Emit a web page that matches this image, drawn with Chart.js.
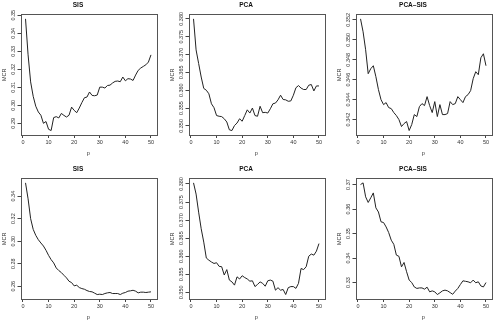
<!DOCTYPE html>
<html>
<head>
<meta charset="utf-8">
<script src="https://cdn.jsdelivr.net/npm/chart.js@4/dist/chart.umd.min.js"></script>
<style>
  html, body { margin: 0; padding: 0; background: #fff; overflow: hidden; }
  #wrap { position: relative; width: 495px; height: 322px; }
  .panel { position: absolute; width: 160px; height: 160px; }
</style>
</head>
<body>
<div id="wrap"></div>
<script>
'use strict';

// number of variables p (x axis)
var pVals = [1, 2, 3, 4, 5, 6, 7, 8, 9, 10, 11, 12, 13, 14, 15, 16, 17, 18, 19, 20,
  21, 22, 23, 24, 25, 26, 27, 28, 29, 30, 31, 32, 33, 34, 35, 36, 37, 38, 39, 40,
  41, 42, 43, 44, 45, 46, 47, 48, 49, 50];
var xTicks = [0, 10, 20, 30, 40, 50];

var titles = ['SIS', 'PCA', 'PCA\u2013SIS', 'SIS', 'PCA', 'PCA\u2013SIS'];

// MCR values, one array per panel
var sisTop = [0.348, 0.328, 0.313, 0.305, 0.2995, 0.2963, 0.2945, 0.290, 0.291, 0.2867,
  0.286, 0.2932, 0.2937, 0.293, 0.2955, 0.2944, 0.2935, 0.2945, 0.299, 0.2972,
  0.2959, 0.2985, 0.3015, 0.3042, 0.3046, 0.3074, 0.3055, 0.3053, 0.3057, 0.3101,
  0.3101, 0.3096, 0.311, 0.3112, 0.3124, 0.3133, 0.3135, 0.3131, 0.3157, 0.3136,
  0.3148, 0.3146, 0.3138, 0.3168, 0.3194, 0.3207, 0.3216, 0.3225, 0.324, 0.328];
var pcaTop = [0.380, 0.3713, 0.3675, 0.3637, 0.3605, 0.360, 0.359, 0.3562, 0.3551, 0.3529,
  0.3527, 0.3526, 0.352, 0.3511, 0.3489, 0.3487, 0.3501, 0.3508, 0.352, 0.3513,
  0.3529, 0.3545, 0.3536, 0.355, 0.3529, 0.3527, 0.3555, 0.3537, 0.3538, 0.3536,
  0.3548, 0.3562, 0.3564, 0.3573, 0.3586, 0.3574, 0.3573, 0.3569, 0.357, 0.3586,
  0.3607, 0.3613, 0.3606, 0.3602, 0.3602, 0.3614, 0.3616, 0.3598, 0.3612, 0.3612];
var pcaSisTop = [0.3521, 0.3508, 0.349, 0.3466, 0.3471, 0.3474, 0.3463, 0.345, 0.344, 0.3435,
  0.3437, 0.3432, 0.3431, 0.3427, 0.3424, 0.342, 0.3413, 0.3416, 0.3418, 0.3409,
  0.3415, 0.3425, 0.3423, 0.3433, 0.3436, 0.3434, 0.3443, 0.3434, 0.3427, 0.3438,
  0.3423, 0.3435, 0.3425, 0.3425, 0.3426, 0.3438, 0.3435, 0.3436, 0.3443, 0.344,
  0.3437, 0.3443, 0.3445, 0.3449, 0.3461, 0.3468, 0.3465, 0.3482, 0.3486, 0.3474];
var sisBottom = [0.3518, 0.3376, 0.32, 0.3105, 0.3052, 0.3013, 0.2984, 0.2957, 0.2919, 0.2874,
  0.2836, 0.2807, 0.2762, 0.2739, 0.2721, 0.2697, 0.2674, 0.2644, 0.2632, 0.2603,
  0.2609, 0.2588, 0.2579, 0.2573, 0.2561, 0.2553, 0.255, 0.2538, 0.2526, 0.2529,
  0.2526, 0.2535, 0.2541, 0.2544, 0.2535, 0.2535, 0.2535, 0.2526, 0.2538, 0.2544,
  0.2556, 0.2559, 0.2564, 0.2556, 0.2541, 0.2547, 0.2547, 0.2544, 0.2547, 0.255];
var pcaBottom = [0.3803, 0.3772, 0.3722, 0.3676, 0.3639, 0.3595, 0.3589, 0.3584, 0.358, 0.3582,
  0.3572, 0.3571, 0.3548, 0.3563, 0.3534, 0.3529, 0.352, 0.3543, 0.3537, 0.3546,
  0.3541, 0.3537, 0.3531, 0.3532, 0.3516, 0.3522, 0.3529, 0.3525, 0.3517, 0.3532,
  0.3534, 0.3531, 0.3506, 0.3513, 0.3506, 0.3508, 0.3494, 0.3513, 0.3516, 0.3516,
  0.3511, 0.3525, 0.3566, 0.3563, 0.3571, 0.360, 0.3606, 0.3603, 0.3614, 0.3635];
var pcaSisBottom = [0.370, 0.3707, 0.365, 0.3627, 0.3646, 0.3666, 0.3605, 0.3588, 0.3548, 0.3545,
  0.3527, 0.3504, 0.3473, 0.3456, 0.3412, 0.3407, 0.3364, 0.3382, 0.3344, 0.331,
  0.330, 0.3282, 0.3276, 0.3278, 0.3278, 0.3273, 0.3281, 0.3262, 0.3266, 0.3262,
  0.3251, 0.3258, 0.3266, 0.3269, 0.3266, 0.3259, 0.3252, 0.3265, 0.3276, 0.3292,
  0.3307, 0.3305, 0.3303, 0.3299, 0.331, 0.3299, 0.3303, 0.3286, 0.3282, 0.330];

// y tick values and their printed labels
var yTicksSisTop = [0.29, 0.30, 0.31, 0.32, 0.33, 0.34, 0.35];
var yLabelsSisTop = ['0.29', '0.30', '0.31', '0.32', '0.33', '0.34', '0.35'];
var yTicksPca = [0.350, 0.355, 0.360, 0.365, 0.370, 0.375, 0.380];
var yLabelsPca = ['0.350', '0.355', '0.360', '0.365', '0.370', '0.375', '0.380'];
var yTicksPcaSisTop = [0.342, 0.344, 0.346, 0.348, 0.350, 0.352];
var yLabelsPcaSisTop = ['0.342', '0.344', '0.346', '0.348', '0.350', '0.352'];
var yTicksSisBottom = [0.26, 0.28, 0.30, 0.32, 0.34];
var yLabelsSisBottom = ['0.26', '0.28', '0.30', '0.32', '0.34'];
var yTicksPcaSisBottom = [0.33, 0.34, 0.35, 0.36, 0.37];
var yLabelsPcaSisBottom = ['0.33', '0.34', '0.35', '0.36', '0.37'];

var panels = [
  { title: titles[0], data: sisTop, ticks: yTicksSisTop, labels: yLabelsSisTop, left: 0, top: 0 },
  { title: titles[1], data: pcaTop, ticks: yTicksPca, labels: yLabelsPca, left: 168, top: 0 },
  { title: titles[2], data: pcaSisTop, ticks: yTicksPcaSisTop, labels: yLabelsPcaSisTop, left: 335, top: 0 },
  { title: titles[3], data: sisBottom, ticks: yTicksSisBottom, labels: yLabelsSisBottom, left: 0, top: 164 },
  { title: titles[4], data: pcaBottom, ticks: yTicksPca, labels: yLabelsPca, left: 168, top: 164 },
  { title: titles[5], data: pcaSisBottom, ticks: yTicksPcaSisBottom, labels: yLabelsPcaSisBottom, left: 335, top: 164 }
];

var FONT = 'Liberation Sans, Arial, Helvetica, sans-serif';
var TICK_SIZE = 5.5;
var AREA_LEFT = 20.5;
var TICK_LEN = 3;
var LABEL_X = 13.3;
var ink = '#333';

var measureCtx = document.createElement('canvas').getContext('2d');
measureCtx.font = TICK_SIZE + 'px ' + FONT;

// R style: axis range stretched 4% beyond the data
function rRange(lo, hi) {
  var pad = (hi - lo) * 0.04;
  return [lo - pad, hi + pad];
}

// box around the plot region
var boxPlugin = {
  id: 'box',
  afterDraw: function (chart) {
    var a = chart.chartArea;
    var c = chart.ctx;
    c.save();
    c.strokeStyle = '#555';
    c.lineWidth = 1;
    c.strokeRect(Math.round(a.left) + 0.5, Math.round(a.top) + 0.5,
      Math.round(a.right - a.left), Math.round(a.bottom - a.top));
    c.restore();
  }
};

function makePanel(panel) {
  var div = document.createElement('div');
  div.className = 'panel';
  div.style.left = panel.left + 'px';
  div.style.top = panel.top + 'px';
  var canvas = document.createElement('canvas');
  canvas.width = 160;
  canvas.height = 160;
  div.appendChild(canvas);
  document.getElementById('wrap').appendChild(div);

  var xr = rRange(pVals[0], pVals[pVals.length - 1]);
  var yr = rRange(Math.min.apply(null, panel.data), Math.max.apply(null, panel.data));

  var widest = 0;
  for (var i = 0; i < panel.labels.length; i++) {
    widest = Math.max(widest, measureCtx.measureText(panel.labels[i]).width);
  }
  var yPad = AREA_LEFT - TICK_LEN - LABEL_X - widest / 2;

  var points = pVals.map(function (p, i) { return { x: p, y: panel.data[i] }; });

  new Chart(canvas.getContext('2d'), {
    type: 'line',
    data: {
      datasets: [{
        data: points,
        borderColor: '#222',
        borderWidth: 1,
        pointRadius: 0,
        tension: 0,
        fill: false
      }]
    },
    options: {
      responsive: false,
      animation: false,
      devicePixelRatio: 1,
      layout: { padding: { left: 0, right: 4, top: 0, bottom: 0 } },
      plugins: {
        legend: { display: false },
        tooltip: { enabled: false },
        title: {
          display: true,
          text: panel.title,
          color: '#111',
          font: { family: FONT, size: 6.5, weight: 'bold', lineHeight: 1.2 },
          padding: { top: 1.8, bottom: 4.8 }
        }
      },
      scales: {
        x: {
          type: 'linear',
          min: xr[0],
          max: xr[1],
          afterBuildTicks: function (s) {
            s.ticks = xTicks.map(function (v) { return { value: v }; });
          },
          afterFit: function (s) { s.height = 25; },
          grid: { drawOnChartArea: false, drawTicks: true, tickLength: TICK_LEN, color: '#444' },
          border: { display: false },
          ticks: {
            autoSkip: false,
            maxRotation: 0,
            padding: 1.5,
            color: ink,
            font: { family: FONT, size: TICK_SIZE }
          },
          title: {
            display: true,
            text: 'p',
            color: ink,
            font: { family: FONT, size: TICK_SIZE, lineHeight: 1.2 },
            padding: { top: 0, bottom: 3.7 }
          }
        },
        y: {
          type: 'linear',
          min: yr[0],
          max: yr[1],
          afterBuildTicks: function (s) {
            s.ticks = panel.ticks.map(function (v) { return { value: v }; });
          },
          afterFit: function (s) { s.width = AREA_LEFT; },
          grid: { drawOnChartArea: false, drawTicks: true, tickLength: TICK_LEN, color: '#444' },
          border: { display: false },
          ticks: {
            autoSkip: false,
            minRotation: 90,
            maxRotation: 90,
            crossAlign: 'center',
            padding: yPad,
            color: ink,
            font: { family: FONT, size: TICK_SIZE },
            callback: function (v) {
              var idx = panel.ticks.indexOf(v);
              return idx >= 0 ? panel.labels[idx] : '';
            }
          },
          title: {
            display: true,
            text: 'MCR',
            color: ink,
            font: { family: FONT, size: TICK_SIZE, lineHeight: 1.2 },
            padding: { top: 1, bottom: 0 }
          }
        }
      }
    },
    plugins: [boxPlugin]
  });
}

panels.forEach(makePanel);
</script>
</body>
</html>
